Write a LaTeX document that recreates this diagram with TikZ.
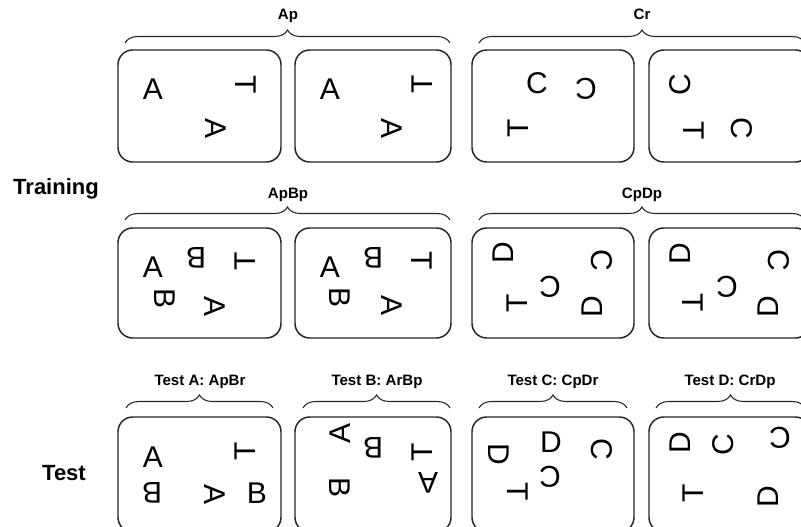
\documentclass[tikz,border=0pt]{standalone}
\usepackage{fontspec}
\setmainfont{Liberation Sans}
\usetikzlibrary{decorations.pathreplacing}
\begin{document}
\begin{tikzpicture}[x=0.75pt,y=-0.75pt,
  panel/.style={draw=black!85, line width=1.1pt, rounded corners=11pt},
  brc/.style={decorate, decoration={brace, amplitude=9.75pt}, draw=black!85, line width=0.8pt},
  grp/.style={font=\bfseries\fontsize{11.3}{13}\selectfont, anchor=base, inner sep=0pt},
  side/.style={font=\bfseries\fontsize{16.5}{19}\selectfont, anchor=base, inner sep=0pt},
  gl/.style={font=\fontsize{22.5}{27}\selectfont, inner sep=0pt}]
\useasboundingbox (0,0) rectangle (801,527);
\clip (0,0) rectangle (801,527);

% side labels
\node[side] (training) at (56,195) {Training};
\node[side] (test) at (64,481) {Test};

% ---------- Row 1 ----------
\draw[brc] (125,43) -- (450,43);
\node[grp] (lAp) at (288,20) {Ap};
\draw[brc] (479,43) -- (805,43);
\node[grp] (lCr) at (642,20) {Cr};
\draw[panel] (118,50) rectangle (281,162);
\draw[panel] (295,50) rectangle (451,162);
\draw[panel] (472,50) rectangle (634,162);
\draw[panel] (649,50) rectangle (810,162);

\node[gl] (a1) at (153,89) {A};
\node[gl,rotate=-90] (a2) at (246,85) {T};
\node[gl,rotate=-90] (a3) at (216,129) {A};

\node[gl] (b1) at (330,89) {A};
\node[gl,rotate=90] (b2) at (422,84) {T};
\node[gl,rotate=-90] (b3) at (392,129) {A};

\node[gl] (c1) at (537,83) {C};
\node[gl,rotate=180] (c2) at (586,89) {C};
\node[gl,rotate=90] (c3) at (518,128) {T};

\node[gl,rotate=90] (d1) at (680,85) {C};
\node[gl,rotate=-90] (d2) at (694,131) {T};
\node[gl,rotate=-90] (d3) at (742,128) {C};

% ---------- Row 2 ----------
\draw[brc] (125,220) -- (450,220);
\node[grp] (lApBp) at (288,199) {ApBp};
\draw[brc] (479,220) -- (805,220);
\node[grp] (lCpDp) at (642,199) {CpDp};
\draw[panel] (118,228) rectangle (281,338);
\draw[panel] (295,228) rectangle (451,338);
\draw[panel] (472,228) rectangle (634,338);
\draw[panel] (649,228) rectangle (810,338);

\node[gl] (e1) at (153,267) {A};
\node[gl,rotate=180] (e2) at (196,258) {B};
\node[gl,rotate=90] (e3) at (245,261) {T};
\node[gl,rotate=-90] (e4) at (165,299) {B};
\node[gl,rotate=-90] (e5) at (215,307) {A};

\node[gl] (f1) at (330,267) {A};
\node[gl,rotate=180] (f2) at (373,258) {B};
\node[gl,rotate=-90] (f3) at (422,261) {T};
\node[gl,rotate=-90] (f4) at (340,298) {B};
\node[gl,rotate=-90] (f5) at (392,306) {A};

\node[gl,rotate=90] (g1) at (503,253) {D};
\node[gl,rotate=-90] (g2) at (602,260) {C};
\node[gl,rotate=180] (g3) at (550,287) {C};
\node[gl,rotate=90] (g4) at (517,303) {T};
\node[gl,rotate=90] (g5) at (592,307) {D};

\node[gl,rotate=90] (h1) at (680,254) {D};
\node[gl,rotate=-90] (h2) at (779,260) {C};
\node[gl,rotate=180] (h3) at (727,287) {C};
\node[gl,rotate=-90] (h4) at (693,303) {T};
\node[gl,rotate=90] (h5) at (768,307) {D};

% ---------- Row 3 ----------
\draw[brc] (126,408) -- (273,408);
\node[grp] (lTA) at (200,386) {Test A: ApBr};
\draw[brc] (303,408) -- (450,408);
\node[grp] (lTB) at (377,386) {Test B: ArBp};
\draw[brc] (479,408) -- (627,408);
\node[grp] (lTC) at (553,386) {Test C: CpDr};
\draw[brc] (656,408) -- (805,408);
\node[grp] (lTD) at (730,386) {Test D: CrDp};
\draw[panel] (118,417) rectangle (281,532);
\draw[panel] (295,417) rectangle (451,532);
\draw[panel] (472,417) rectangle (634,532);
\draw[panel] (649,417) rectangle (810,532);

\node[gl] (i1) at (153,457) {A};
\node[gl,rotate=90] (i2) at (245,451) {T};
\node[gl,rotate=180] (i3) at (152,493) {B};
\node[gl,rotate=-90] (i4) at (215,495) {A};
\node[gl] (i5) at (257,493) {B};

\node[gl,rotate=90] (j1) at (340,433) {A};
\node[gl,rotate=180] (j2) at (373,448) {B};
\node[gl,rotate=90] (j3) at (422,452) {T};
\node[gl,rotate=-90] (j4) at (340,488) {B};
\node[gl,rotate=180] (j5) at (428,483) {A};

\node[gl,rotate=-90] (k1) at (499,454) {D};
\node[gl] (k2) at (551,442) {D};
\node[gl,rotate=-90] (k3) at (602,449) {C};
\node[gl,rotate=180] (k4) at (550,477) {C};
\node[gl,rotate=-90] (k5) at (518,492) {T};

\node[gl,rotate=90] (m1) at (680,443) {D};
\node[gl,rotate=90] (m2) at (723,445) {C};
\node[gl,rotate=180] (m3) at (780,438) {C};
\node[gl,rotate=90] (m4) at (693,493) {T};
\node[gl,rotate=90] (m5) at (768,497) {D};
\end{tikzpicture}
\end{document}
